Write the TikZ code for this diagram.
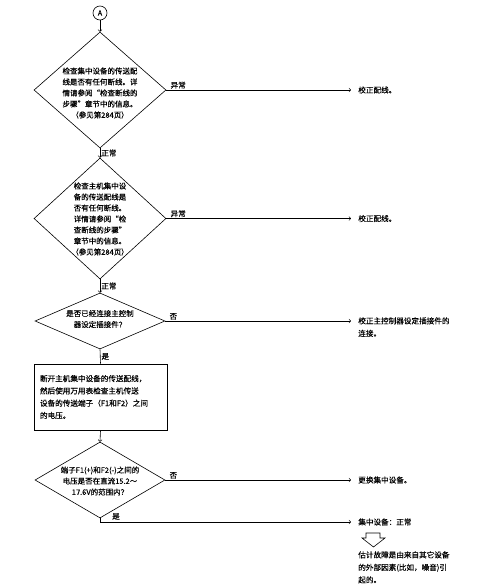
\documentclass[tikz,border=0pt]{standalone}
\usepackage{fontspec}
\setmainfont[FakeBold=0.35]{Noto Sans CJK SC}
\usetikzlibrary{shapes.geometric}
\begin{document}
\begin{tikzpicture}[x=1pt,y=-1pt,line width=0.6pt,>=to,
  txt/.style={font=\fontsize{7.5}{11}\selectfont,inner sep=0pt,align=center},
  dia/.style={draw,diamond,inner sep=0pt},
  lbl/.style={font=\fontsize{7.6}{9}\selectfont,inner sep=1pt},
  res/.style={font=\fontsize{7.6}{12.5}\selectfont,inner ysep=0pt,inner xsep=7pt,align=left},
  stepbox/.style={draw,font=\fontsize{7.6}{12.3}\selectfont,align=left,text width=121pt,inner xsep=6pt,minimum width=133pt,minimum height=66pt,line width=0.9pt}
]
\useasboundingbox (0,0) rectangle (489,587);
% start connector
\node[draw,circle,minimum size=14pt,inner sep=0pt,font=\fontsize{7}{8}\selectfont] (A) at (100,13) {A};
% decisions
\node[dia,minimum width=132pt,minimum height=116pt] (d1) at (100,90) {};
\node[txt] (t1) at (100,93) {检查集中设备的传送配\\线是否有任何断线。详\\情请参阅“检查断线的\\步骤”章节中的信息。\\（参见第284页）};
\node[dia,minimum width=132pt,minimum height=121pt] (d2) at (100,218.5) {};
\node[txt] (t2) at (100,219) {检查主机集中设\\备的传送配线是\\否有任何断线。\\详情请参阅“检\\查断线的步骤”\\章节中的信息。\\（参见第284页）};
\node[dia,minimum width=130pt,minimum height=56pt] (d3) at (100,321) {};
\node[txt] (t3) at (100,319) {是否已经连接主控制\\器设定插接件？};
\node[stepbox] (box) at (100.5,397) {断开主机集中设备的传送配线，\\然后使用万用表检查主机传送\\设备的传送端子（F1和F2）之间\\的电压。};
\node[dia,minimum width=130pt,minimum height=76pt] (d4) at (100,480) {};
\node[txt] (t4) at (100,481) {端子F1(+)和F2(-)之间的\\电压是否在直流15.2～\\17.6V的范围内？};
% results
\node[res,anchor=west] (r1) at (351,90) {校正配线。};
\node[res,anchor=west] (r2) at (351,218.5) {校正配线。};
\node[res,anchor=north west] (r3) at (351,317) {校正主控制器设定插接件的\\连接。};
\node[res,anchor=west] (r4) at (351,480) {更换集中设备。};
\node[res,anchor=west] (r5) at (351,522) {集中设备：正常};
\node[res,anchor=north west] (r6) at (351,551) {估计故障是由来自其它设备\\的外部因素(比如，噪音)引\\起的。};
% vertical flow
\draw[->] (A.south) -- (d1.north);
\draw[->] (d1.south) -- node[lbl,right]{正常} (d2.north);
\draw[->] (d2.south) -- node[lbl,right]{正常} (d3.north);
\draw (d3.south) -- node[lbl,right]{是} (box.north);
\draw[->] (box.south) -- (d4.north);
% horizontal flow
\draw[->] (d1.east) -- node[lbl,above right,pos=0,xshift=3pt]{异常} (r1.west);
\draw[->] (d2.east) -- node[lbl,above right,pos=0,xshift=3pt]{异常} (r2.west);
\draw[->] (d3.east) -- node[lbl,above right,pos=0,xshift=3pt]{否} (d3.east -| r3.west);
\draw[->] (d4.east) -- node[lbl,above right,pos=0,xshift=3pt]{否} (r4.west);
\draw[->] (d4.south) |- (r5.west);
\node[lbl,anchor=south] (yes4) at (116,521) {是};
% hollow down arrow
\draw[line width=0.6pt] (366,533) -- (380,533) -- (380,538) -- (385,538) -- (373.5,547) -- (362,538) -- (366,538) -- cycle;
\end{tikzpicture}
\end{document}
